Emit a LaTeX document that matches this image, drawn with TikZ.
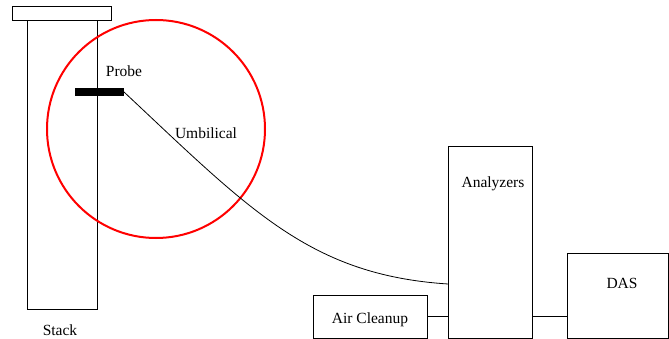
\documentclass[tikz,border=0pt]{standalone}
\usepackage{fontspec}
\setmainfont{Liberation Serif}
\usetikzlibrary{positioning}
\begin{document}
\begin{tikzpicture}[x=1pt, y=-1pt]
\tikzstyle{box}=[draw, line width=1pt, inner sep=0pt, outer sep=0pt, anchor=north west];
\tikzstyle{txt}=[font=\fontsize{15.5}{18}\selectfont, inner sep=0pt];
\useasboundingbox (0,0) rectangle (669,339);
% stack with its cap and the probe
\node[box, minimum width=99pt, minimum height=14pt] (cap) at (12,7) {};
\node[box, minimum width=70pt, minimum height=288pt] (stack) at (27,21) {};
\node[box, draw=none, fill=black, minimum width=49pt, minimum height=8pt] (probe) at (75,88) {};
\node[circle, draw=red, line width=2pt, minimum size=218pt, inner sep=0pt] (zone) at (156,129) {};
% instruments
\node[box, minimum width=84pt, minimum height=191pt] (analyzers) at (448,147) {};
\node[box, minimum width=114pt, minimum height=43pt] (aircleanup) at (313,295) {};
\node[box, minimum width=101pt, minimum height=85pt] (das) at (567,253) {};
\coordinate (inlet) at (448,284);
% texts
\node[txt] (stacklabel) at (60,330) {Stack};
\node[txt] (probelabel) at (124,71) {Probe};
\node[txt] (umblabel) at (206,133) {Umbilical};
\node[txt] (anlabel) at (493,184) {Analyzers};
\node[txt] (aclabel) at (370,320) {Air Cleanup};
\node[txt] (daslabel) at (622,283) {DAS};
% connections
\draw[line width=0.8pt] (probe.east) .. controls (250,210) and (310,275) .. (inlet);
\draw[line width=1pt] (aircleanup.east) -- (aircleanup.east -| analyzers.west);
\draw[line width=1pt] (analyzers.east |- aircleanup.east) -- (das.west |- aircleanup.east);
\end{tikzpicture}
\end{document}
